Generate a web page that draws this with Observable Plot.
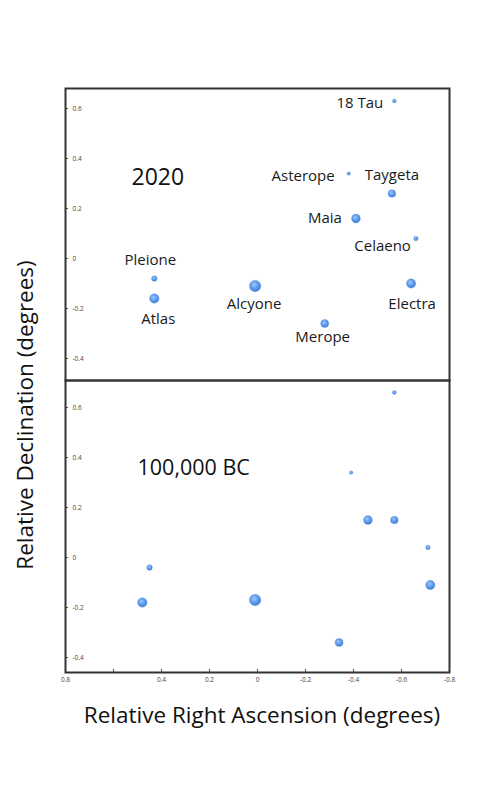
<!DOCTYPE html>
<html>
<head>
<meta charset="utf-8">
<script src="https://cdn.jsdelivr.net/npm/d3@7"></script>
<script src="https://cdn.jsdelivr.net/npm/@observablehq/plot@0.6"></script>
<style>
  body { margin: 0; background: #fff; font-family: "Open Sans", sans-serif; }
  #wrap { position: relative; width: 488px; height: 800px; overflow: hidden; }
  #wrap svg { position: absolute; left: 0; overflow: visible; }
  .ytitle { position: absolute; left: 24px; top: 415px; transform: translate(-50%, -50%) rotate(-90deg); white-space: nowrap; font-size: 22.5px; color: #111; }
  .xtitle { position: absolute; left: 262px; top: 714px; transform: translate(-50%, -50%); white-space: nowrap; font-size: 22.5px; color: #111; }
</style>
</head>
<body>
<div id="wrap"></div>
<script>
// ---- data ----
const stars     = ["18 Tau", "Asterope", "Taygeta", "Maia", "Celaeno", "Electra", "Pleione", "Atlas", "Alcyone", "Merope"];
const magnitude = [5.64, 5.76, 4.29, 3.87, 5.45, 3.70, 5.05, 3.62, 2.87, 4.17];
const ra2020    = [-0.57, -0.38, -0.56, -0.41, -0.66, -0.64, 0.43, 0.43, 0.01, -0.28];
const dec2020   = [0.63, 0.34, 0.26, 0.16, 0.08, -0.10, -0.08, -0.16, -0.11, -0.26];
const raBC      = [-0.57, -0.39, -0.57, -0.46, -0.71, -0.72, 0.45, 0.48, 0.01, -0.34];
const decBC     = [0.66, 0.34, 0.15, 0.15, 0.04, -0.11, -0.04, -0.18, -0.17, -0.34];
const epochs    = ["2020", "100,000 BC"];
const yTicks    = [-0.4, -0.2, 0, 0.2, 0.4, 0.6];
const xTicks    = [0.8, 0.6, 0.4, 0.2, 0, -0.2, -0.4, -0.6, -0.8];
const xTickLabels = ["0.8", "", "0.4", "0.2", "0", "-0.2", "-0.4", "-0.6", "-0.8"];
const xTitle = "Relative Right Ascension (degrees)";
const yTitle = "Relative Declination (degrees)";

// label placement (pixel offsets from each star, 2020 panel)
const labelLayout = {
  "18 Tau":   {dx: -11, dy: 2,   anchor: "end"},
  "Asterope": {dx: -14, dy: 3,   anchor: "end"},
  "Taygeta":  {dx: 0,   dy: -18, anchor: "middle"},
  "Maia":     {dx: -14, dy: 0,   anchor: "end"},
  "Celaeno":  {dx: -5,  dy: 8,   anchor: "end"},
  "Electra":  {dx: 1,   dy: 21,  anchor: "middle"},
  "Pleione":  {dx: -4,  dy: -18, anchor: "middle"},
  "Atlas":    {dx: 4,   dy: 21,  anchor: "middle"},
  "Alcyone":  {dx: -1,  dy: 18,  anchor: "middle"},
  "Merope":   {dx: -2,  dy: 14,  anchor: "middle"}
};

const idx = stars.map((_, i) => i);
const wrap = document.getElementById("wrap");

function gradientDefs(id) {
  return () => {
    const defs = d3.create("svg:defs");
    const g = defs.append("radialGradient").attr("id", id)
      .attr("cx", "42%").attr("cy", "38%").attr("r", "62%");
    g.append("stop").attr("offset", "0%").attr("stop-color", "#9fc8f8");
    g.append("stop").attr("offset", "55%").attr("stop-color", "#5d9bec");
    g.append("stop").attr("offset", "100%").attr("stop-color", "#3f7fda");
    return defs.node();
  };
}

const rScale = {type: "linear", domain: [6.0, 2.8], range: [1.5, 5.9]};
const yAxisOpts = {
  anchor: "left", ticks: yTicks, tickFormat: d => String(d),
  tickSize: -3, tickPadding: -4, textAnchor: "start",
  fontSize: 6.5, fill: "#444", stroke: "#555"
};

// ---- top panel: 2020 ----
const panelTop = Plot.plot({
  width: 488, height: 381,
  marginTop: 88, marginBottom: 1, marginLeft: 65, marginRight: 39,
  x: {domain: [0.8, -0.8], axis: null},
  y: {domain: [-0.488, 0.68], axis: null},
  r: rScale,
  style: {fontFamily: "'Open Sans', sans-serif", background: "transparent"},
  marks: [
    gradientDefs("sg1"),
    Plot.axisY(yAxisOpts),
    Plot.dot(idx, {x: i => ra2020[i], y: i => dec2020[i], r: i => magnitude[i], fill: "url(#sg1)", stroke: "#5a92de", strokeWidth: 0.3}),
    ...idx.map(i => {
      const L = labelLayout[stars[i]];
      return Plot.text([i], {x: i => ra2020[i], y: i => dec2020[i], text: i => stars[i],
        dx: L.dx, dy: L.dy, textAnchor: L.anchor, fontSize: 15, fill: "#1a1a1a"});
    }),
    Plot.text([epochs[0]], {frameAnchor: "top-left", dx: 66, dy: 80, textAnchor: "start", fontSize: 23, fill: "#111"}),
    Plot.frame({stroke: "#333", strokeWidth: 2})
  ]
});
panelTop.style.top = "0px";
wrap.appendChild(panelTop);

// ---- bottom panel: 100,000 BC ----
const panelBottom = Plot.plot({
  width: 488, height: 323,
  marginTop: 1, marginBottom: 30, marginLeft: 65, marginRight: 39,
  x: {domain: [0.8, -0.8], axis: null},
  y: {domain: [-0.46, 0.708], axis: null},
  r: rScale,
  style: {fontFamily: "'Open Sans', sans-serif", background: "transparent"},
  marks: [
    gradientDefs("sg2"),
    Plot.axisY(yAxisOpts),
    Plot.axisX({anchor: "bottom", ticks: xTicks, tickFormat: d => xTickLabels[xTicks.indexOf(d)],
      tickSize: -3, tickPadding: 8, fontSize: 6.5, fill: "#444", stroke: "#555"}),
    Plot.dot(idx, {x: i => raBC[i], y: i => decBC[i], r: i => magnitude[i], fill: "url(#sg2)", stroke: "#5a92de", strokeWidth: 0.3}),
    Plot.text([epochs[1]], {frameAnchor: "top-left", dx: 72, dy: 79, textAnchor: "start", fontSize: 21.5, fill: "#111"}),
    Plot.frame({stroke: "#333", strokeWidth: 2})
  ]
});
panelBottom.style.top = "379px";
wrap.appendChild(panelBottom);

const yt = document.createElement("div");
yt.className = "ytitle"; yt.textContent = yTitle; wrap.appendChild(yt);
const xt = document.createElement("div");
xt.className = "xtitle"; xt.textContent = xTitle; wrap.appendChild(xt);
</script>
</body>
</html>
